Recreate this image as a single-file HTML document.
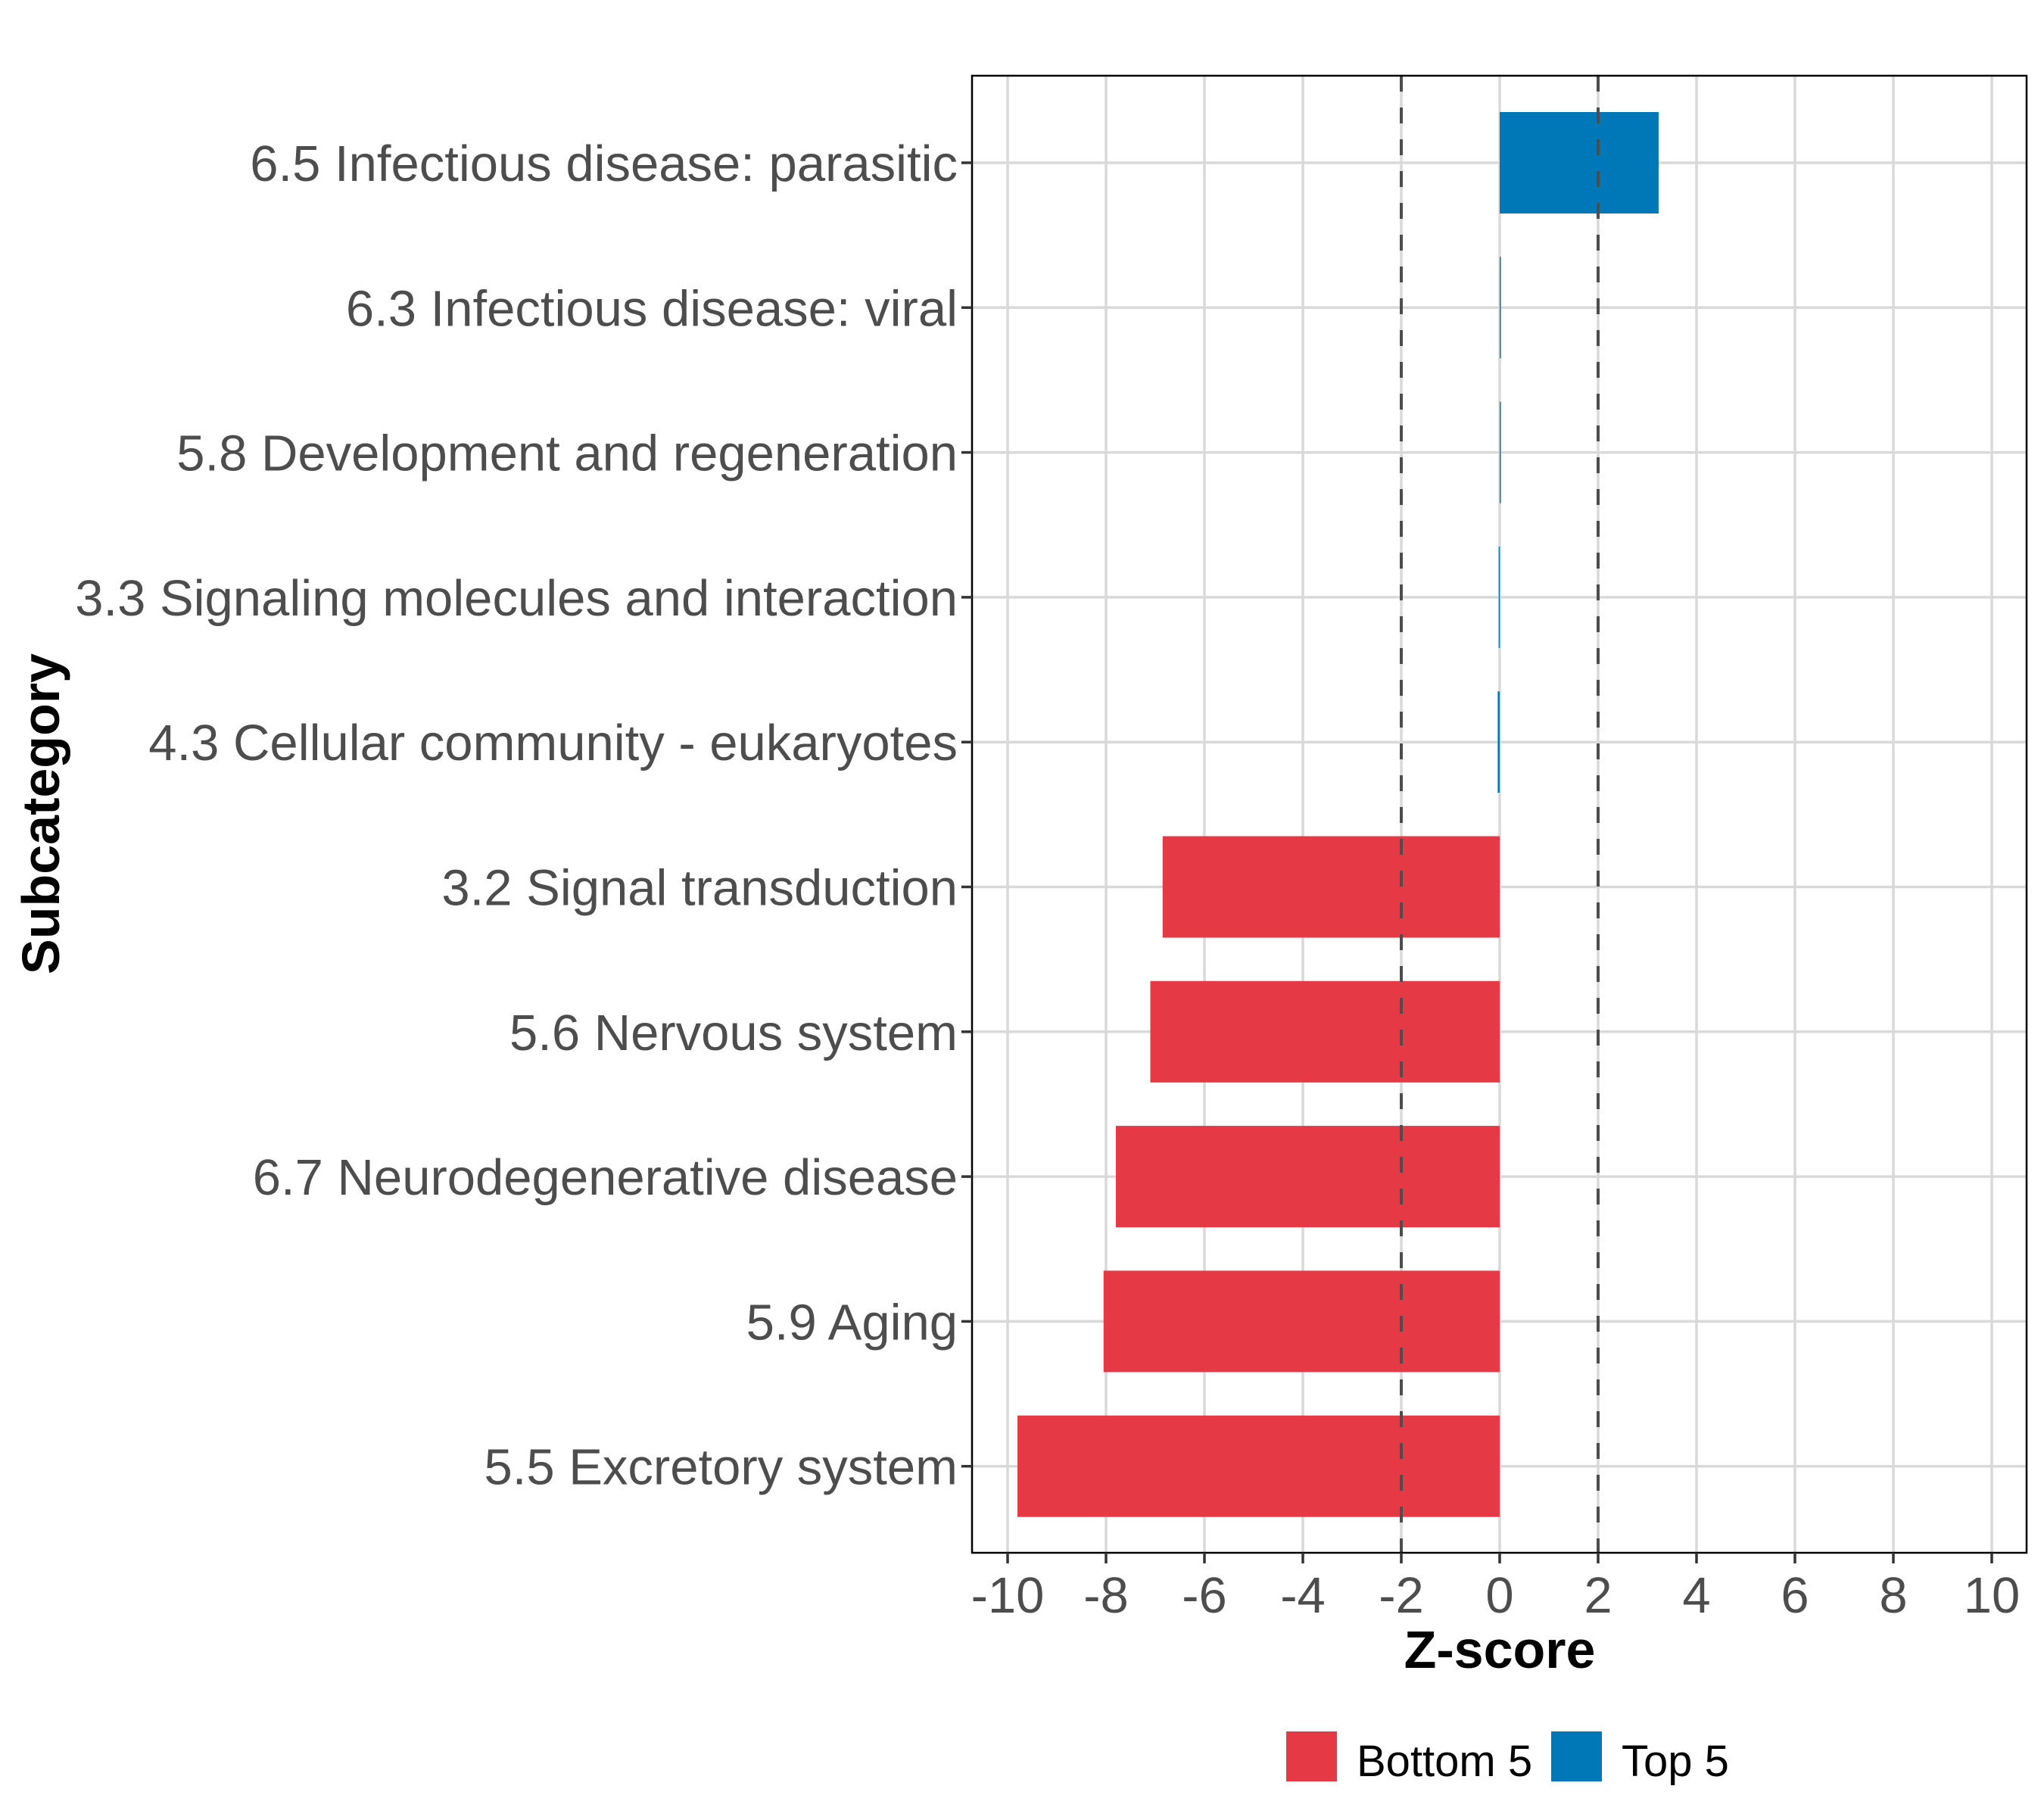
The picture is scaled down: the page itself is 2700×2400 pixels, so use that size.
<!DOCTYPE html>
<html><head><meta charset="utf-8"><style>
html,body{margin:0;padding:0;background:#fff;}
svg{display:block;font-family:"Liberation Sans",Arial,sans-serif;}
</style></head><body>
<svg id="chart" width="2700" height="2400" viewBox="0 0 2700 2400" xmlns="http://www.w3.org/2000/svg"></svg>
<script>
const categories = ["6.5 Infectious disease: parasitic","6.3 Infectious disease: viral","5.8 Development and regeneration","3.3 Signaling molecules and interaction","4.3 Cellular community - eukaryotes","3.2 Signal transduction","5.6 Nervous system","6.7 Neurodegenerative disease","5.9 Aging","5.5 Excretory system"];
const zscores = [3.23, 0.02, 0.01, -0.02, -0.04, -6.85, -7.1, -7.8, -8.05, -9.8];
const groups = ["Top 5","Top 5","Top 5","Top 5","Top 5","Bottom 5","Bottom 5","Bottom 5","Bottom 5","Bottom 5"];
const xTicks = [-10,-8,-6,-4,-2,0,2,4,6,8,10];
const thresholds = [-2, 2];
const legendLabels = ["Bottom 5","Top 5"];

const NS="http://www.w3.org/2000/svg";
const svg=document.getElementById('chart');
const PL=1284, PR=2677, PT=100, PB=2051;
const X0=1981, XS=65;
const x=v=>X0+v*XS;
const Y0=215, YS=191.3;
const y=i=>Y0+i*YS;
const BH=134;
const colors={"Bottom 5":"#E63946","Top 5":"#0077B6"};
function mk(tag,attrs,parent){const e=document.createElementNS(NS,tag);for(const k in attrs)e.setAttribute(k,attrs[k]);(parent||svg).appendChild(e);return e;}

const grid=mk('g',{});


xTicks.forEach(t=>{const l=mk('line',{x1:x(t),x2:x(t),y1:PT,y2:PB,stroke:'#d9d9d9','stroke-width':3.5},grid);

});
categories.forEach((c,i)=>{const l=mk('line',{x1:PL,x2:PR,y1:y(i),y2:y(i),stroke:'#d9d9d9','stroke-width':3.5},grid);

});

zscores.forEach((v,i)=>{
 const r=mk('rect',{x:Math.min(x(0),x(v)),y:y(i)-BH/2,width:Math.max(Math.abs(x(v)-x(0)),1.5),height:BH,fill:colors[groups[i]]});
 
 
});

thresholds.forEach(t=>{const l=mk('line',{x1:x(t),x2:x(t),y1:PT,y2:PB,stroke:'#4d4d4d','stroke-width':4,'stroke-dasharray':'21 21'});

});

const frame=mk('rect',{x:PL,y:PT,width:PR-PL,height:PB-PT,fill:'none',stroke:'#000','stroke-width':2.5});



categories.forEach((c,i)=>{
 mk('line',{x1:PL-14,x2:PL,y1:y(i),y2:y(i),stroke:'#333','stroke-width':3.5});
 const t=mk('text',{x:1265,y:y(i)+24,'text-anchor':'end','font-size':67,fill:'#4d4d4d'});
 t.textContent=c;
 
 
});
xTicks.forEach(v=>{
 mk('line',{x1:x(v),x2:x(v),y1:PB,y2:PB+14,stroke:'#333','stroke-width':3.5});
 const t=mk('text',{x:x(v),y:2130,'text-anchor':'middle','font-size':67,fill:'#4d4d4d'});
 t.textContent=String(v);
 
 
});

const xt=mk('text',{x:x(0),y:2203,'text-anchor':'middle','font-size':70,'font-weight':'bold',fill:'#000'});
xt.textContent='Z-score';


const yt=mk('text',{x:0,y:0,'text-anchor':'middle','font-size':70,'font-weight':'bold',fill:'#000',transform:'translate(78,1075) rotate(-90)'});
yt.textContent='Subcategory';



const lx=[1699,2049];
const tx=[1792,2142];
legendLabels.forEach((lab,i)=>{
 const r=mk('rect',{x:lx[i],y:2287,width:67,height:66,fill:colors[lab]});
 
 
 const t=mk('text',{x:tx[i],y:2346,'font-size':58,fill:'#000'});
 t.textContent=lab;
 
 
});
</script>
</body></html>
